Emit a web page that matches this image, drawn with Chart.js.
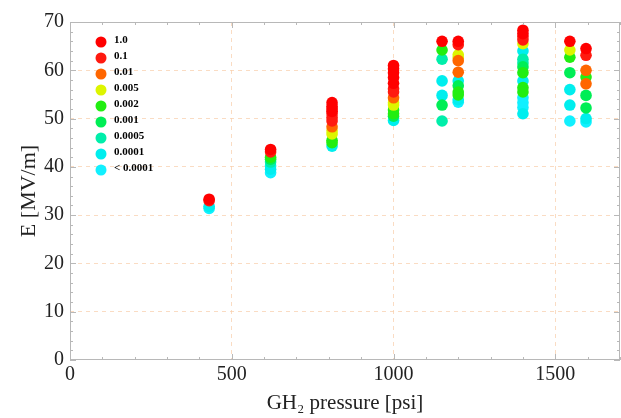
<!DOCTYPE html>
<html>
<head>
<meta charset="utf-8">
<script src="https://cdn.jsdelivr.net/npm/chart.js@4.4.1/dist/chart.umd.min.js"></script>
<style>
    html, body { margin: 0; padding: 0; background: #fff; }
</style>
</head>
<body>
<canvas id="breakdownChart" width="621" height="418"></canvas>
<script>
// breakdown probability levels (legend order)
var levels = ['1.0', '0.1', '0.01', '0.005', '0.002', '0.001', '0.0005', '0.0001', '< 0.0001'];
var colors = ['#ff0000', '#ff1a10', '#ff6600', '#ddf500', '#22ee11', '#00ee55', '#00eeaa', '#00eeee', '#11f0ff'];

// points per level as [pressure psi, E MV/m]
var p1_0 = [[430, 33.3], [620, 43.6], [810, 53.3], [810, 52.5], [810, 51.5], [1000, 61.0], [1000, 60.3], [1000, 59.5], [1000, 58.5], [1000, 57.3],
    [1150, 66.0], [1200, 66.0], [1400, 68.3], [1400, 67.6], [1545, 66.0], [1595, 64.5]];
var p0_1 = [[430, 33.0], [620, 43.1], [810, 52.0], [810, 51.0], [810, 50.2], [810, 49.5], [1000, 56.2], [1000, 55.5], [1200, 65.3],
    [1400, 67.0], [1400, 66.3], [1595, 63.1]];
var p0_01 = [[810, 48.3], [1000, 54.3], [1200, 62.0], [1200, 59.6], [1595, 60.0], [1595, 57.2]];
var p0_005 = [[810, 47.5], [810, 46.8], [1000, 53.3], [1000, 52.8], [1200, 63.2], [1200, 62.6], [1400, 65.5], [1545, 64.2]];
var p0_002 = [[620, 42.0], [810, 45.5], [810, 45.0], [1000, 51.8], [1000, 51.0], [1150, 64.2], [1200, 55.5], [1200, 54.9],
    [1400, 59.5], [1400, 56.4], [1400, 55.5], [1545, 62.7], [1595, 58.6]];
var p0_001 = [[620, 41.6], [1000, 50.5], [1150, 52.8], [1200, 56.8], [1400, 60.7], [1545, 59.5], [1595, 54.8], [1595, 52.2]];
var p0_0005 = [[620, 41.0], [1150, 62.3], [1150, 49.5], [1400, 62.3], [1400, 61.5]];
var p0_0001 = [[430, 31.8], [620, 40.2], [620, 39.5], [810, 44.3], [1000, 49.6], [1150, 57.8], [1150, 54.8], [1200, 57.8], [1200, 53.9],
    [1400, 64.0], [1400, 57.8], [1400, 51.0], [1545, 56.0], [1545, 52.8], [1595, 50.0]];
var pLow = [[430, 31.4], [620, 38.8], [1200, 53.4], [1400, 54.3], [1400, 53.3], [1400, 52.3], [1545, 49.5], [1595, 49.3]];
var seriesPoints = [p1_0, p0_1, p0_01, p0_005, p0_002, p0_001, p0_0005, p0_0001, pLow];

var xTicks = [0, 500, 1000, 1500];
var yTicks = [0, 10, 20, 30, 40, 50, 60, 70];
var xMinorStep = 100;
var yMinorStep = 2;

var serif = "'Liberation Serif', 'DejaVu Serif', serif";

// frame, inward ticks and the legend inside the plot
var framePlugin = {
    id: 'framePlugin',
    afterDraw: function (chart) {
        var c = chart.ctx, a = chart.chartArea;
        var xs = chart.scales.x, ys = chart.scales.y;
        c.save();
        c.strokeStyle = '#b8b8b8';
        c.lineWidth = 1;
        c.strokeRect(a.left + 0.5, a.top + 0.5, a.right - a.left - 1, a.bottom - a.top - 1);
        c.beginPath();
        for (var v = 0; v <= xs.max; v += xMinorStep) {
            var px = Math.round(xs.getPixelForValue(v)) + 0.5;
            var len = (v % 500 === 0) ? 6 : 3;
            c.moveTo(px, a.bottom); c.lineTo(px, a.bottom - len);
            c.moveTo(px, a.top); c.lineTo(px, a.top + len);
        }
        for (var w = 0; w <= ys.max; w += yMinorStep) {
            var py = Math.round(ys.getPixelForValue(w)) + 0.5;
            var l2 = (w % 10 === 0) ? 6 : 3;
            c.moveTo(a.left, py); c.lineTo(a.left + l2, py);
            c.moveTo(a.right, py); c.lineTo(a.right - l2, py);
        }
        c.stroke();

        // legend
        c.font = "bold 11px " + serif;
        c.textBaseline = 'middle';
        c.textAlign = 'left';
        chart.data.datasets.forEach(function (ds, i) {
            var ly = 42 + i * 16;
            c.fillStyle = ds.backgroundColor;
            c.beginPath();
            c.arc(101, ly, 5.5, 0, Math.PI * 2);
            c.fill();
            c.fillStyle = '#000';
            c.fillText(ds.label, 114, ly - 2);
        });
        c.restore();
    }
};

var ctx = document.getElementById('breakdownChart').getContext('2d');

new Chart(ctx, {
    type: 'scatter',
    data: {
        datasets: levels.map(function (lvl, i) {
            return {
                label: lvl,
                data: seriesPoints[i].map(function (p) { return { x: p[0], y: p[1] }; }),
                backgroundColor: colors[i],
                borderWidth: 0,
                pointRadius: 5.8,
                pointHoverRadius: 5.8
            };
        })
    },
    options: {
        responsive: false,
        animation: false,
        layout: {
            autoPadding: false,
            padding: { left: 0, right: 1, top: 22, bottom: 0 }
        },
        plugins: {
            legend: { display: false },
            tooltip: { enabled: false }
        },
        scales: {
            x: {
                type: 'linear',
                min: 0,
                max: 1700,
                afterBuildTicks: function (scale) {
                    scale.ticks = xTicks.map(function (v) { return { value: v }; });
                },
                afterFit: function (scale) {
                    scale.height = 58;
                    scale.paddingRight = 0;
                },
                grid: {
                    color: function (c) { return (c.tick && c.tick.value === 0) ? 'rgba(0,0,0,0)' : 'rgba(248,205,170,0.7)'; },
                    drawTicks: false
                },
                border: { display: false, dash: [4, 4] },
                ticks: {
                    color: '#222',
                    padding: 3,
                    maxRotation: 0,
                    autoSkip: false,
                    callback: function (v) { return String(v); },
                    font: { family: serif, size: 20 }
                },
                title: {
                    display: true,
                    text: 'GH\u2082 pressure [psi]',
                    color: '#222',
                    padding: { top: 0, bottom: 2 },
                    font: { family: serif, size: 21 }
                }
            },
            y: {
                min: 0,
                max: 70,
                afterBuildTicks: function (scale) {
                    scale.ticks = yTicks.map(function (v) { return { value: v }; });
                },
                afterFit: function (scale) { scale.width = 70; },
                grid: {
                    color: function (c) { return (c.tick && (c.tick.value === 0 || c.tick.value === 70)) ? 'rgba(0,0,0,0)' : 'rgba(248,205,170,0.7)'; },
                    drawTicks: false
                },
                border: { display: false, dash: [4, 4] },
                ticks: {
                    color: '#222',
                    padding: 6,
                    autoSkip: false,
                    callback: function (v) { return String(v); },
                    font: { family: serif, size: 20 }
                },
                title: {
                    display: true,
                    text: 'E [MV/m]',
                    color: '#222',
                    padding: { top: 16, bottom: 0 },
                    font: { family: serif, size: 22 }
                }
            }
        }
    },
    plugins: [framePlugin]
});
</script>
</body>
</html>
